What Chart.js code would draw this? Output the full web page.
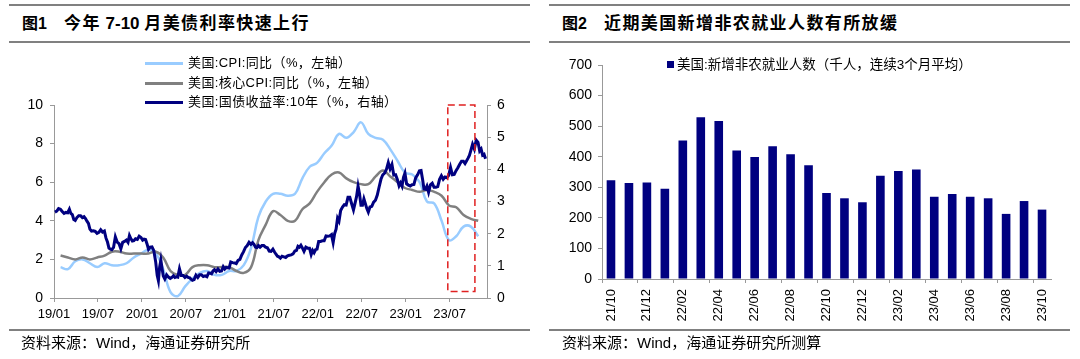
<!DOCTYPE html>
<html>
<head>
<meta charset="utf-8">
<script src="https://cdn.jsdelivr.net/npm/chart.js@4.4.0/dist/chart.umd.min.js"></script>
<style>
    body { margin: 0; width: 1080px; height: 359px; background: #fff; position: relative; overflow: hidden;
           font-family: "Liberation Sans", "Noto Sans CJK SC", sans-serif; color: #000; }
    .rule { position: absolute; height: 2px; background: #808080; }
    .title { position: absolute; top: 13px; font-weight: bold; line-height: 22px; white-space: nowrap; }
    .title .no { position: absolute; left: 0; font-size: 16px; }
    .title .txt { position: absolute; left: 42px; font-size: 17px; letter-spacing: 1.4px; }
    .title .num { letter-spacing: 0; }
    .src { position: absolute; top: 334px; font-size: 15px; line-height: 18px; white-space: nowrap; }
    .leg { position: absolute; font-size: 13px; line-height: 16px; white-space: nowrap; letter-spacing: 0.4px; }
    .swatch { position: absolute; height: 3px; width: 38px; }
    canvas { position: absolute; }
</style>
</head>
<body>

<!-- panel 1 -->
<div class="rule" style="left:9px; width:521px; top:4px;"></div>
<div class="title" style="left:22px;"><span class="no">图1</span><span class="txt">今年<span class="num"> 7-10 </span>月美债利率快速上行</span></div>
<div class="rule" style="left:9px; width:521px; top:41px;"></div>
<canvas id="rateChart" width="540" height="290" style="left:0; top:44px;"></canvas>
<div class="swatch" style="left:145px; top:62px; background:#99ccff;"></div>
<div class="leg" style="left:188px; top:55px;">美国:CPI:同比（%，左轴）</div>
<div class="swatch" style="left:145px; top:82px; background:#808080;"></div>
<div class="leg" style="left:188px; top:75px;">美国:核心CPI:同比（%，左轴）</div>
<div class="swatch" style="left:145px; top:101px; background:#000080;"></div>
<div class="leg" style="left:188px; top:94px;">美国:国债收益率:10年（%，右轴）</div>
<div class="rule" style="left:9px; width:521px; top:329px; height:1.5px;"></div>
<div class="src" style="left:21px;">资料来源：Wind，海通证券研究所</div>

<!-- panel 2 -->
<div class="rule" style="left:549px; width:521px; top:4px;"></div>
<div class="title" style="left:562px;"><span class="no">图2</span><span class="txt">近期美国新增非农就业人数有所放缓</span></div>
<div class="rule" style="left:549px; width:521px; top:41px;"></div>
<canvas id="payrollChart" width="540" height="290" style="left:540px; top:44px;"></canvas>
<div style="position:absolute; left:667px; top:61px; width:7px; height:7px; background:#000080;"></div>
<div class="leg" style="left:677px; top:57px; font-size:13.5px; letter-spacing:0;">美国:新增非农就业人数（千人，连续3个月平均）</div>
<div class="rule" style="left:549px; width:521px; top:329px; height:1.5px;"></div>
<div class="src" style="left:562px;">资料来源：Wind，海通证券研究所测算</div>

<script>
// ---- data: chart 1 (monthly CPI from 2019/01, weekly 10Y yield by month) ----
const xTickLabels = ['19/01', '19/07', '20/01', '20/07', '21/01', '21/07', '22/01', '22/07', '23/01', '23/07'];

const cpiYoY = [
    1.6, 1.5, 1.9, 2.0, 1.8, 1.6, 1.8, 1.7, 1.7, 1.8, 2.1, 2.3,
    2.5, 2.3, 1.5, 0.3, 0.1, 0.6, 1.0, 1.3, 1.4, 1.2, 1.2, 1.4,
    1.4, 1.7, 2.6, 4.2, 5.0, 5.4, 5.4, 5.3, 5.4, 6.2, 6.8, 7.0,
    7.5, 7.9, 8.5, 8.3, 8.6, 9.1, 8.5, 8.3, 8.2, 7.7, 7.1, 6.5,
    6.4, 6.0, 5.0, 4.9, 4.0, 3.0, 3.2, 3.7, 3.7, 3.2
];

const coreCpiYoY = [
    2.2, 2.1, 2.0, 2.1, 2.0, 2.1, 2.2, 2.4, 2.4, 2.3, 2.3, 2.3,
    2.3, 2.4, 2.1, 1.4, 1.2, 1.2, 1.6, 1.7, 1.7, 1.6, 1.6, 1.6,
    1.4, 1.3, 1.6, 3.0, 3.8, 4.5, 4.3, 4.0, 4.0, 4.6, 4.9, 5.5,
    6.0, 6.4, 6.5, 6.2, 6.0, 5.9, 5.9, 6.3, 6.6, 6.3, 6.0, 5.7,
    5.6, 5.5, 5.6, 5.5, 5.3, 4.8, 4.7, 4.3, 4.1, 4.0
];

// one inner list per month, readings spread through the month
const ust10y = [
    [2.67, 2.70, 2.78, 2.76], [2.69, 2.63, 2.66, 2.65], [2.76, 2.63, 2.59, 2.44, 2.41],
    [2.50, 2.56, 2.56, 2.50], [2.53, 2.47, 2.39, 2.32, 2.14], [2.08, 2.09, 2.07, 2.01],
    [2.04, 2.12, 2.05, 2.08], [1.86, 1.74, 1.55, 1.52, 1.50], [1.57, 1.90, 1.74, 1.69],
    [1.53, 1.73, 1.76, 1.80], [1.73, 1.94, 1.84, 1.77, 1.78], [1.84, 1.82, 1.92, 1.88],
    [1.80, 1.83, 1.82, 1.68, 1.51], [1.58, 1.59, 1.47, 1.13], [0.71, 0.54, 0.96, 1.18, 0.92, 0.68],
    [0.59, 0.72, 0.65, 0.61], [0.64, 0.69, 0.64, 0.66, 0.65], [0.91, 0.70, 0.70, 0.64],
    [0.68, 0.64, 0.63, 0.59, 0.55], [0.57, 0.71, 0.64, 0.72], [0.72, 0.67, 0.69, 0.66],
    [0.78, 0.77, 0.75, 0.84, 0.88], [0.82, 0.90, 0.83, 0.84], [0.97, 0.90, 0.95, 0.94, 0.93],
    [1.12, 1.10, 1.09, 1.07], [1.17, 1.20, 1.34, 1.44], [1.57, 1.63, 1.73, 1.67],
    [1.72, 1.67, 1.58, 1.57, 1.63], [1.58, 1.63, 1.63, 1.58], [1.56, 1.46, 1.45, 1.52],
    [1.43, 1.36, 1.30, 1.28, 1.24], [1.30, 1.28, 1.26, 1.31], [1.33, 1.34, 1.37, 1.46],
    [1.48, 1.61, 1.58, 1.64, 1.56], [1.45, 1.58, 1.55, 1.55], [1.35, 1.48, 1.41, 1.50, 1.52],
    [1.76, 1.76, 1.78, 1.78], [1.93, 1.92, 1.93, 1.97], [1.72, 2.00, 2.14, 2.48, 2.39],
    [2.72, 2.83, 2.90, 2.89], [3.13, 3.13, 2.93, 2.74], [2.96, 3.16, 3.48, 3.24, 2.88],
    [2.88, 3.08, 2.93, 2.78, 2.67], [2.83, 2.85, 2.98, 3.04], [3.20, 3.45, 3.69, 3.83],
    [3.88, 4.00, 4.21, 4.01], [4.15, 3.82, 3.83, 3.68], [3.49, 3.58, 3.48, 3.75, 3.88],
    [3.55, 3.51, 3.48, 3.52], [3.53, 3.74, 3.83, 3.95], [3.96, 3.70, 3.39, 3.38, 3.48],
    [3.29, 3.52, 3.57, 3.44], [3.44, 3.46, 3.69, 3.80], [3.69, 3.76, 3.74, 3.81],
    [4.06, 3.83, 3.84, 3.96], [4.05, 4.16, 4.25, 4.25], [4.18, 4.26, 4.34, 4.43, 4.59],
    [4.78, 4.63, 4.91, 4.84], [4.57, 4.63, 4.44, 4.47, 4.33]
];

// dashed highlight, in months since 2019/01 and right-axis units
const focusBox = { from: 53.75, to: 57.45, top: 6, bottom: 0.2 };

// ---- data: chart 2 ----
const payrollMonths = [
    '21/10', '21/11', '21/12', '22/01', '22/02', '22/03', '22/04', '22/05', '22/06', '22/07',
    '22/08', '22/09', '22/10', '22/11', '22/12', '23/01', '23/02', '23/03', '23/04', '23/05',
    '23/06', '23/07', '23/08', '23/09', '23/10'
];
const payroll3mAvg = [
    323, 314, 316, 295, 453, 529, 517, 420, 399, 434,
    408, 372, 281, 264, 251, 338, 353, 358, 269, 278,
    269, 264, 213, 255, 227
];

const FONT = '"Liberation Sans", Arial, sans-serif';
const AXIS_GREY = '#999999';

// monthly prints sit near month end
let cpiPoints = cpiYoY.map((v, i) => ({ x: i + 0.9, y: v }));
let corePoints = coreCpiYoY.map((v, i) => ({ x: i + 0.9, y: v }));
let yieldPoints = [];
ust10y.forEach((month, m) => {
    month.forEach((v, j) => yieldPoints.push({ x: m + (j + 0.5) / month.length, y: v }));
});

const focusBoxPlugin = {
    id: 'focusBox',
    afterDatasetsDraw(chart) {
        let ctx = chart.ctx;
        let x = chart.scales.x;
        let y1 = chart.scales.y1;
        let left = x.getPixelForValue(focusBox.from);
        let right = x.getPixelForValue(focusBox.to);
        let top = y1.getPixelForValue(focusBox.top);
        let bottom = y1.getPixelForValue(focusBox.bottom);
        ctx.save();
        ctx.strokeStyle = '#e02020';
        ctx.lineWidth = 1.5;
        ctx.setLineDash([7, 4]);
        ctx.strokeRect(left, top, right - left, bottom - top);
        ctx.restore();
    }
};

// Chart 1: CPI vs 10Y yield
new Chart(document.getElementById('rateChart').getContext('2d'), {
    type: 'line',
    data: {
        datasets: [
            {
                label: '美国:CPI:同比（%，左轴）',
                data: cpiPoints,
                borderColor: '#99ccff',
                borderWidth: 2.5,
                tension: 0.4,
                yAxisID: 'y',
                order: 2,
            },
            {
                label: '美国:核心CPI:同比（%，左轴）',
                data: corePoints,
                borderColor: '#808080',
                borderWidth: 2.5,
                tension: 0.4,
                yAxisID: 'y',
                order: 1,
            },
            {
                label: '美国:国债收益率:10年（%，右轴）',
                data: yieldPoints,
                borderColor: '#000080',
                borderWidth: 3,
                tension: 0,
                yAxisID: 'y1',
                order: 0,
            }
        ]
    },
    options: {
        responsive: false,
        animation: false,
        layout: { padding: { top: 61, left: 0, right: 0, bottom: 0 } },
        elements: { point: { radius: 0 } },
        plugins: {
            legend: { display: false },
            tooltip: { enabled: false },
        },
        scales: {
            x: {
                type: 'linear',
                min: 0,
                max: 59.1,
                // one tick every 6 months, one per label
                afterBuildTicks: scale => {
                    scale.ticks = xTickLabels.map((label, i) => ({ value: i * 6 }));
                },
                afterFit: scale => { scale.height = 36; },
                grid: { drawOnChartArea: false, color: AXIS_GREY, tickLength: 4 },
                border: { color: AXIS_GREY },
                ticks: {
                    autoSkip: false,
                    maxRotation: 0,
                    padding: 5,
                    color: '#000',
                    font: { family: FONT, size: 13 },
                    callback: value => xTickLabels[Math.round(value / 6)],
                },
            },
            y: {
                position: 'left',
                min: 0,
                max: 10,
                afterFit: scale => { scale.width = 54; },
                grid: { drawOnChartArea: false, color: AXIS_GREY, tickLength: 4 },
                border: { color: AXIS_GREY },
                ticks: { stepSize: 2, padding: 7, color: '#000', font: { family: FONT, size: 14 } },
            },
            y1: {
                position: 'right',
                min: 0,
                max: 6,
                afterFit: scale => { scale.width = 53; },
                grid: { drawOnChartArea: false, color: AXIS_GREY, tickLength: 4 },
                border: { color: AXIS_GREY },
                ticks: { stepSize: 1, padding: 6, color: '#000', font: { family: FONT, size: 14 } },
            },
        },
    },
    plugins: [focusBoxPlugin],
});

// Chart 2: nonfarm payrolls, 3-month average
new Chart(document.getElementById('payrollChart').getContext('2d'), {
    type: 'bar',
    data: {
        labels: payrollMonths,
        datasets: [{
            label: '美国:新增非农就业人数（千人，连续3个月平均）',
            data: payroll3mAvg,
            backgroundColor: '#000080',
            categoryPercentage: 1,
            barPercentage: 0.48,
        }]
    },
    options: {
        responsive: false,
        animation: false,
        layout: { padding: { top: 21, right: 29, left: 0, bottom: 0 } },
        plugins: {
            legend: { display: false },
            tooltip: { enabled: false },
        },
        scales: {
            x: {
                afterFit: scale => { scale.height = 55; },
                grid: {
                    offset: true,
                    drawOnChartArea: false,
                    tickLength: 4,
                    tickColor: ctx => (ctx.index % 2 === 0 ? AXIS_GREY : 'rgba(0,0,0,0)'),
                },
                border: { color: AXIS_GREY },
                ticks: {
                    autoSkip: false,
                    minRotation: 90,
                    maxRotation: 90,
                    padding: 6,
                    color: '#000',
                    font: { family: FONT, size: 13 },
                    callback: (value, i) => (i % 2 === 0 ? payrollMonths[i] : ''),
                },
            },
            y: {
                min: 0,
                max: 700,
                afterFit: scale => { scale.width = 62; },
                grid: { drawOnChartArea: false, color: AXIS_GREY, tickLength: 4 },
                border: { color: AXIS_GREY },
                ticks: { stepSize: 100, padding: 6, color: '#000', font: { family: FONT, size: 14 } },
            },
        },
    },
});
</script>
</body>
</html>
